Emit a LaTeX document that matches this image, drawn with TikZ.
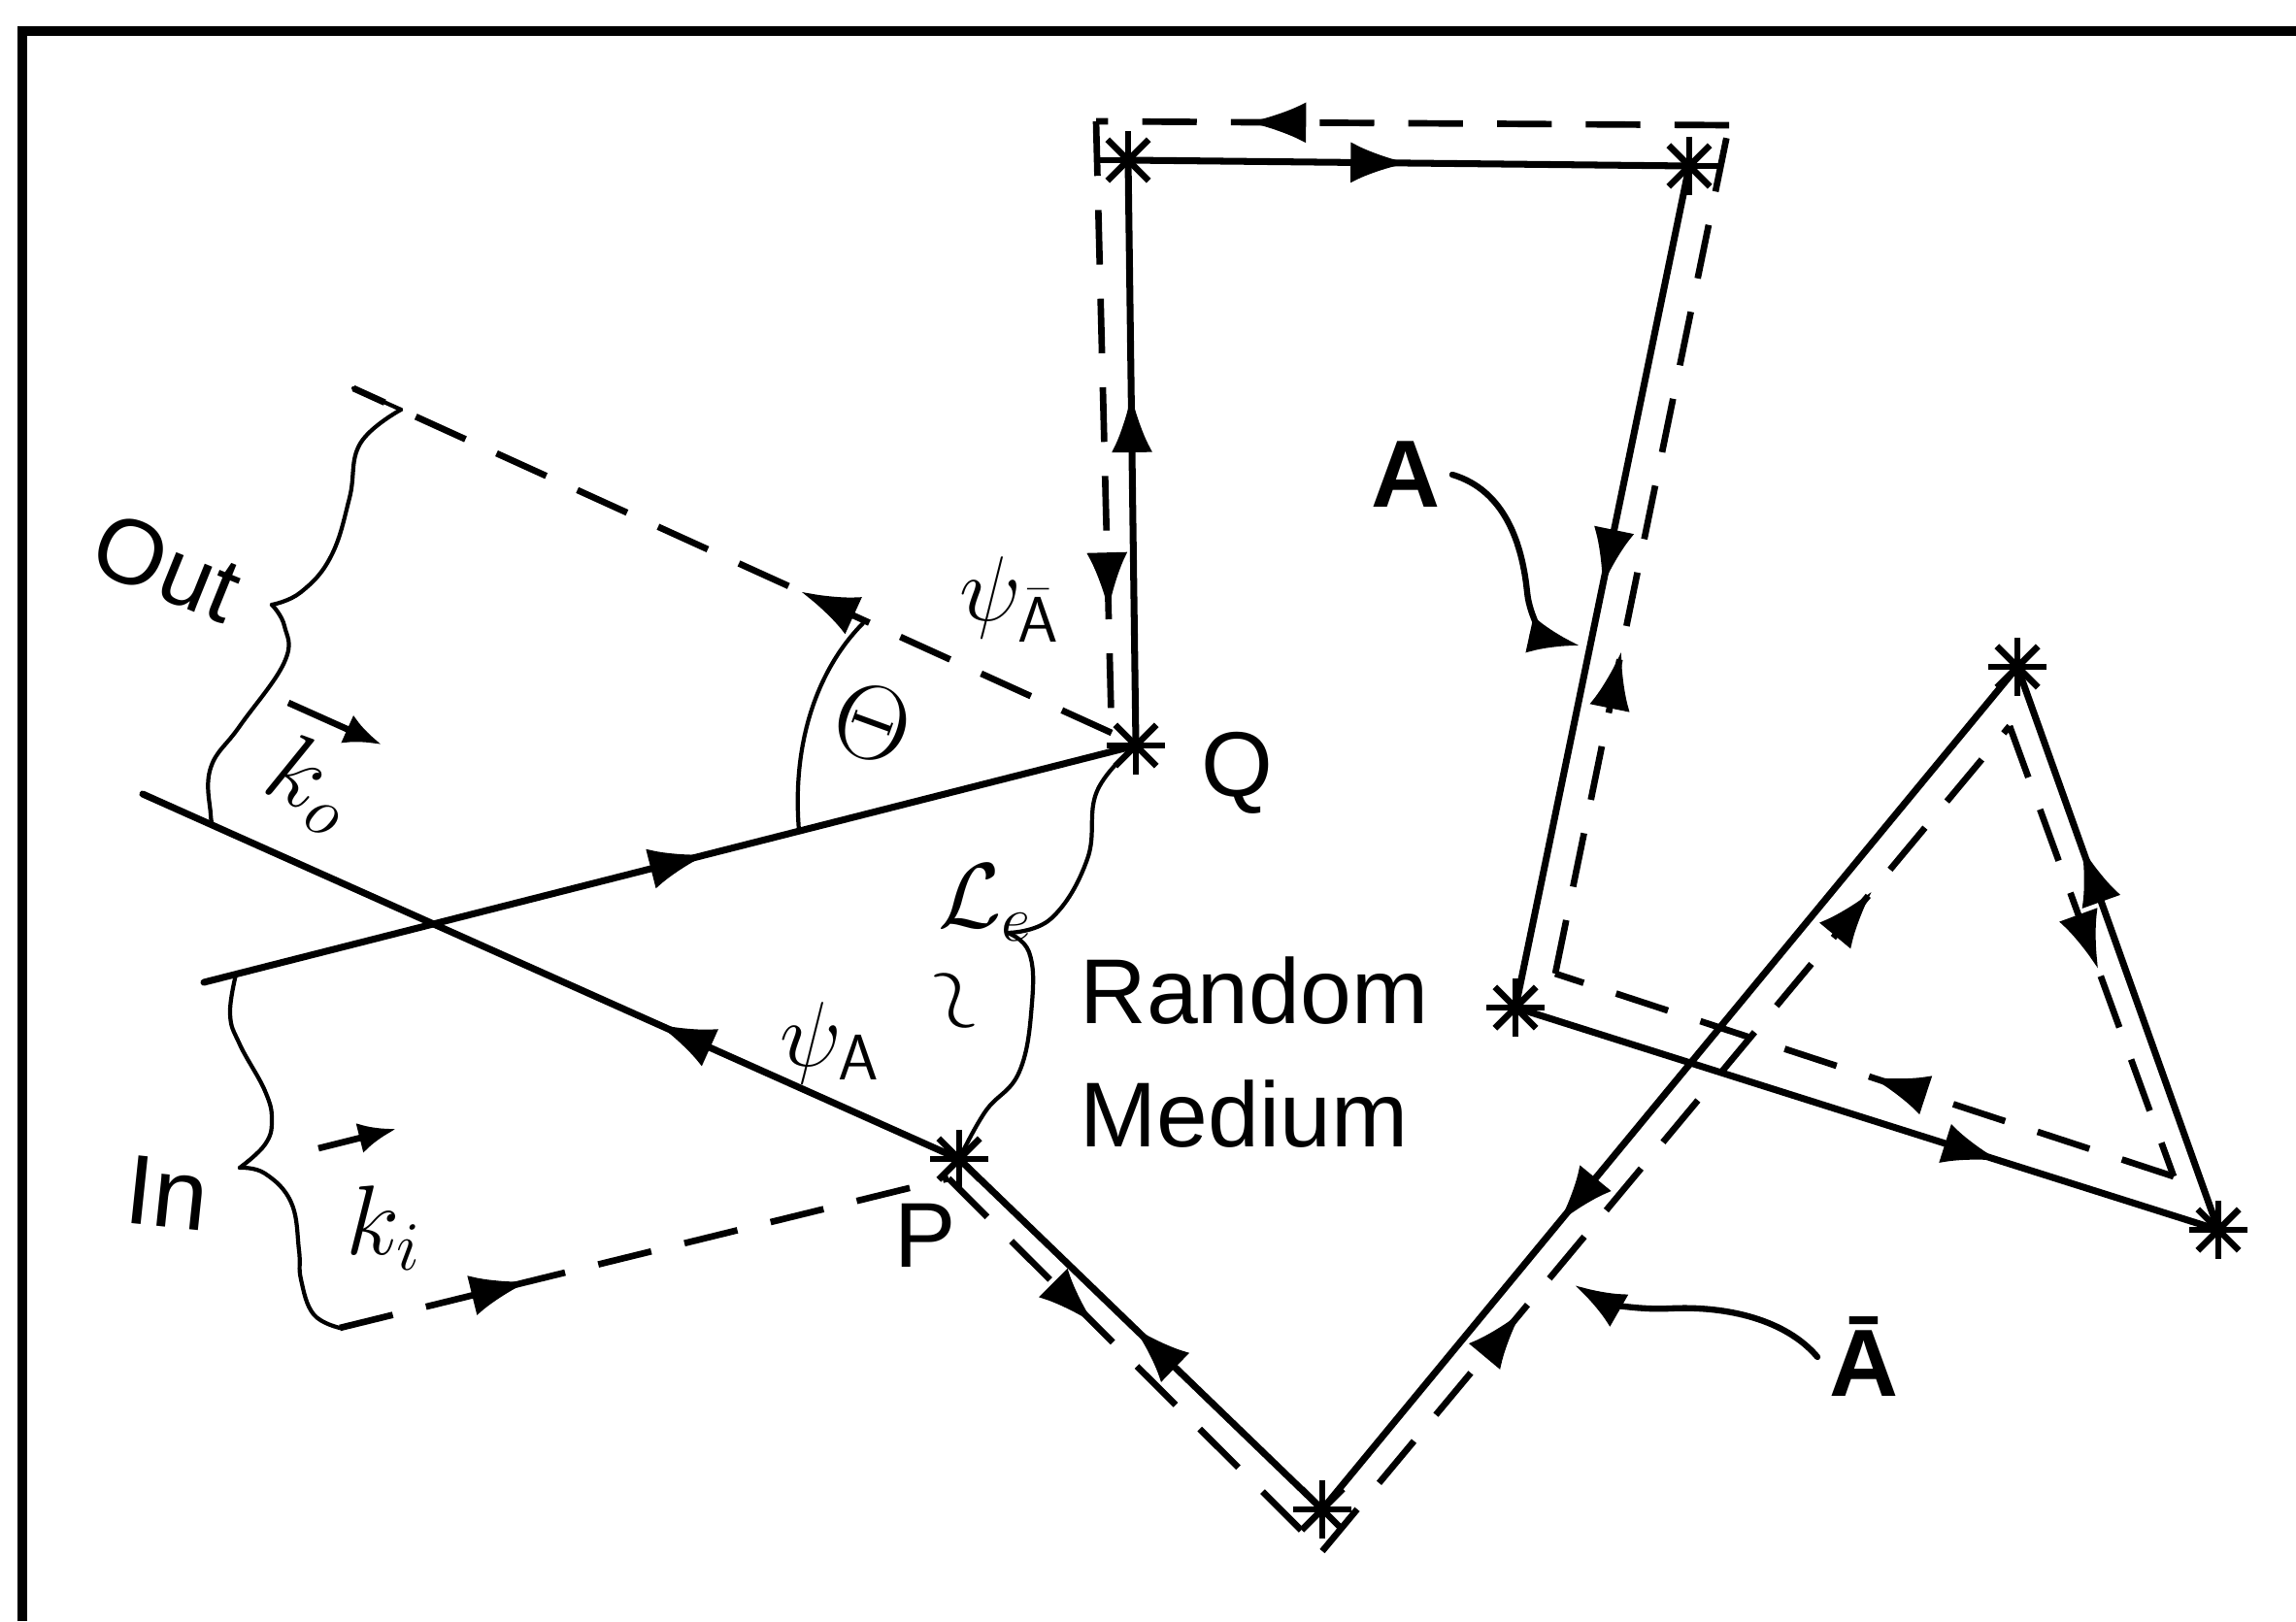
\RequirePackage{fix-cm}
\documentclass[tikz,border=0pt]{standalone}
\usepackage{fontspec}
\setmainfont{Liberation Sans}
\usetikzlibrary{arrows.meta,decorations.markings}
\tikzset{
  ray/.style={line width=2pt, line cap=round},
  revray/.style={line width=1.9pt, dash pattern=on 16pt off 10pt},
  brace/.style={line width=1.2pt, line cap=round},
  midarr/.style={postaction={decorate, decoration={markings, mark=at position #1 with {\arrow{Latex[length=17pt,width=12pt]}}}}},
  lbl/.style={font=\fontsize{27}{36}\selectfont},
}
\begin{document}
\begin{tikzpicture}
    \useasboundingbox (0,0) rectangle (23.65,16.70);
    \draw[line width=2.8pt] (0.23,0) -- (0.23,16.38) -- (23.65,16.38);
    % scatterers
    \coordinate (Q) at (11.70,9.02);
    \coordinate (T1) at (11.62,15.05);
    \coordinate (T2) at (17.40,14.99);
    \coordinate (R) at (15.61,6.32);
    \coordinate (B) at (22.85,4.03);
    \coordinate (C) at (20.78,9.83);
    \coordinate (V) at (13.62,1.15);
    \coordinate (P) at (9.88,4.76);
    % beam ends
    \coordinate (Ain) at (2.10,6.58);
    \coordinate (Aout) at (1.47,8.52);
    \coordinate (Bin) at (3.50,3.02);
    \coordinate (Bout) at (3.64,12.70);
    % corners of the reversed path
    \coordinate (Pd) at (9.77,4.56);
    \coordinate (D6) at (13.62,0.72);
    \coordinate (D5) at (20.70,9.22);
    \coordinate (D4) at (22.39,4.58);
    \coordinate (D3) at (16.02,6.67);
    \coordinate (D2) at (17.81,15.41);
    \coordinate (D1) at (11.29,15.45);
    \coordinate (Qd) at (11.45,9.15);

    \foreach \a/\b/\p in {Ain/Q/0.54, Q/T1/0.60, T1/T2/0.50, T2/R/0.50, R/B/0.69, B/C/0.68, C/V/0.66, V/P/0.52, P/Aout/0.37}
        \draw[ray, midarr=\p] (\a) -- (\b);
    \foreach \a/\b/\p in {Bin/Pd/0.31, Pd/D6/0.39, D5/D4/0.54, D4/D3/0.49, D3/D2/0.38, D2/D1/0.76, D1/Qd/0.80, Qd/Bout/0.41}
        \draw[revray, midarr=\p] (\a) -- (\b);
    \draw[revray, midarr=0.29, midarr=0.80] (D6) -- (D5);

    \foreach \v in {Q,T1,T2,R,B,C,V,P}
        \foreach \a in {0,45,90,135}
            \draw[line width=1.9pt] (\v) ++(\a:0.3) -- ++({\a+180}:0.6);

    % braces
    \coordinate (obt) at (4.13,12.48);
    \coordinate (ibt) at (2.43,6.66);
    \coordinate (obb) at (2.20,8.19);
    \draw[brace] (Bout) -- (obt);
    \draw[brace] plot[smooth, tension=0.7] coordinates {(obt) (3.71,12.13) (3.60,11.57) (3.41,10.97) (3.10,10.60) (2.80,10.47)};
    \draw[brace] plot[smooth, tension=0.7] coordinates {(2.80,10.47) (2.93,10.25) (2.93,9.88) (2.47,9.22) (2.17,8.79) (2.17,8.31) (obb)};
    \draw[brace] plot[smooth, tension=0.7] coordinates {(ibt) (2.37,6.25) (2.47,5.94) (2.73,5.46) (2.80,5.16) (2.73,4.91) (2.47,4.67)};
    \draw[brace] plot[smooth, tension=0.7] coordinates {(2.47,4.67) (2.73,4.61) (3.00,4.31) (3.08,3.82) (3.10,3.52) (3.23,3.16) (Bin)};
    \draw[brace] plot[smooth, tension=0.7] coordinates {(Q) (11.30,8.55) (11.20,7.85) (10.83,7.24) (10.38,7.09)};
    \draw[brace] plot[smooth, tension=0.7] coordinates {(10.38,7.09) (10.60,6.89) (10.63,6.37) (10.50,5.66) (10.15,5.25) (P)};

    % angle
    \coordinate (th1) at (8.23,8.14);
    \coordinate (th2) at (8.91,10.30);
    \draw[brace] (th1) .. controls (8.15,9.10) and (8.45,9.85) .. (th2);

    % wave vectors
    \coordinate (koA) at (2.97,9.46);
    \coordinate (koB) at (3.93,9.03);
    \coordinate (kiA) at (3.28,4.87);
    \coordinate (kiB) at (4.08,5.07);
    \draw[line width=1.9pt, -{Latex[length=11pt,width=9pt]}] (koA) -- (koB);
    \draw[line width=1.9pt, -{Latex[length=11pt,width=9pt]}] (kiA) -- (kiB);

    \node[lbl] (labQ) at (12.74,8.74) {Q};
    \node[lbl] (labP) at (9.53,3.97) {P};
    \node[lbl, font=\fontsize{28}{30}\selectfont\bfseries] (labA) at (14.48,11.81) {A};
    \node[lbl, font=\fontsize{28}{30}\selectfont\bfseries] (labAb) at (19.20,2.72) {\=A};
    \node[lbl, align=left] (medium) at (12.92,5.86) {Random\\Medium};
    \node[lbl, rotate=-22] (labOut) at (1.72,10.86) {Out};
    \node[lbl, font=\fontsize{29}{30}\selectfont, rotate=-6] (labIn) at (1.72,4.41) {In};
    \node[lbl, font=\fontsize{29}{30}\selectfont, rotate=-25] (ko) at (3.20,8.62) {$k_{o}$};
    \node[lbl, font=\fontsize{29}{30}\selectfont] (ki) at (3.95,4.05) {$k_{i}$};
    \node[lbl, font=\fontsize{31}{32}\selectfont, rotate=-20] (theta) at (8.99,9.25) {$\Theta$};
    \node[lbl] (psiA) at (8.55,5.95) {$\psi_{\mathsf{A}}$};
    \node[lbl] (psiAb) at (10.40,10.52) {$\psi_{\bar{\mathsf{A}}}$};
    \node[lbl] (le) at (10.15,7.40) {$\mathcal{L}_e$};
    \node[lbl, rotate=-70] (tld) at (9.77,6.37) {$\sim$};

    % pointers
    \coordinate (aTip) at (16.27,10.05);
    \coordinate (abTip) at (16.22,3.46);
    \draw[brace, line width=1.8pt, -{Latex[length=15pt,width=11pt]}] (labA.east) .. controls (15.50,11.65) and (15.68,11.10) .. (15.73,10.60) .. controls (15.76,10.30) and (15.95,10.12) .. (aTip);
    \draw[brace, line width=1.8pt, -{Latex[length=15pt,width=11pt]}] (labAb.west) .. controls (18.40,3.10) and (17.80,3.25) .. (17.20,3.22) .. controls (16.80,3.20) and (16.50,3.30) .. (abTip);
\end{tikzpicture}
\end{document}
